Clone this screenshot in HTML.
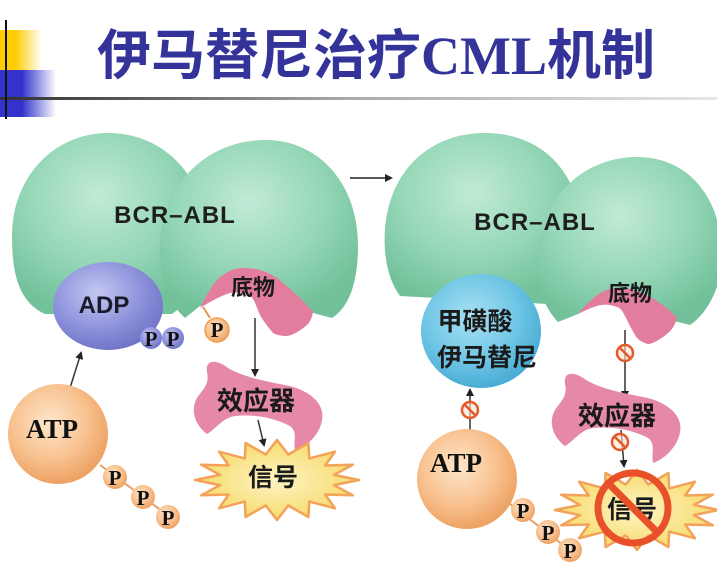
<!DOCTYPE html>
<html><head><meta charset="utf-8"><style>
html,body{margin:0;padding:0;background:#fff;}
#wrap{position:relative;width:717px;height:570px;overflow:hidden;background:#fff;}
.dec{position:absolute;}
#title{position:absolute;left:97px;top:24px;font-size:54px;line-height:54px;font-weight:bold;color:#333399;font-family:"Noto Sans CJK SC","WenQuanYi Zen Hei",sans-serif;white-space:nowrap;}
#title .l{font-family:"Liberation Serif",serif;}
svg{position:absolute;left:0;top:0;}
</style></head><body><div id="wrap">
<div class="dec" style="left:0;top:30px;width:42px;height:40px;background:linear-gradient(90deg,#ffcc00 0,#ffcc00 15px,rgba(255,204,0,0) 42px);"></div>
<div class="dec" style="left:0;top:70px;width:56px;height:47px;background:linear-gradient(90deg,#3333cc 0,#3333cc 22px,rgba(51,51,204,0) 56px);"></div>
<div class="dec" style="left:0;top:97px;width:717px;height:3px;background:linear-gradient(90deg,#333 0,#555 120px,#aaa 350px,#e6e6e6 717px);"></div>
<div class="dec" style="left:5px;top:20px;width:2px;height:99px;background:#111;"></div>
<div id="title">伊马替尼治疗<span class="l">CML</span>机制</div>
<svg width="717" height="570" viewBox="0 0 717 570" xmlns="http://www.w3.org/2000/svg">
<defs>
<radialGradient id="gr" cx="45%" cy="35%" r="65%"><stop offset="0" stop-color="#c2ead6"/><stop offset="0.55" stop-color="#97d8b8"/><stop offset="1" stop-color="#72c19b"/></radialGradient>
<radialGradient id="adp" cx="40%" cy="35%" r="65%"><stop offset="0" stop-color="#c4c7f2"/><stop offset="0.6" stop-color="#9094dc"/><stop offset="1" stop-color="#7176c8"/></radialGradient>
<radialGradient id="atp" cx="42%" cy="38%" r="62%"><stop offset="0" stop-color="#fde6cc"/><stop offset="0.6" stop-color="#f8c290"/><stop offset="1" stop-color="#eea264"/></radialGradient>
<radialGradient id="ima" cx="42%" cy="38%" r="62%"><stop offset="0" stop-color="#a8e1f3"/><stop offset="0.6" stop-color="#72c7e6"/><stop offset="1" stop-color="#4aadd5"/></radialGradient>
<radialGradient id="st" cx="50%" cy="50%" r="55%"><stop offset="0" stop-color="#fdf4c4"/><stop offset="1" stop-color="#f6d964"/></radialGradient>
<marker id="ah" markerWidth="8" markerHeight="8" refX="6" refY="4" orient="auto" markerUnits="userSpaceOnUse"><path d="M0,0 L8,4 L0,8 Z" fill="#222"/></marker>
</defs>
<g font-family="Liberation Sans, sans-serif">
<!-- LEFT PANEL -->
<path d="M45,314 C18,302 12,272 12,236 C12,176 55,133 108,133 C165,133 205,178 205,232 C205,272 192,300 172,314 Z" fill="url(#gr)"/>
<path d="M185,318 C165,300 158,270 160,240 C165,180 210,140 265,140 C320,140 358,185 358,245 C358,285 348,308 332,318 L313,313 L275,288 C262,283 240,282 228,288 L200,306 Z" fill="url(#gr)"/>
<path d="M200,308 C208,292 215,280 223,275 C230,270 236,268 243,268 C258,268 268,272 277,278 C292,290 303,300 313,312 C312,318 310,322 307,325 C300,331 293,335 287,336 C282,336 277,335 273,333 C268,327 264,322 260,315 C256,306 254,298 250,296 C243,292 236,292 230,293 C220,296 210,302 200,308 Z" fill="#e27d9e"/>
<ellipse cx="108" cy="306" rx="55" ry="44" fill="url(#adp)"/>
<circle cx="151" cy="338" r="11" fill="url(#adp)"/>
<circle cx="173" cy="338" r="11" fill="url(#adp)"/>
<line x1="210" y1="318" x2="203" y2="307" stroke="#e8954a" stroke-width="2"/>
<circle cx="217" cy="330" r="12" fill="url(#atp)" stroke="#f0a050" stroke-width="1.5"/>
<text x="175" y="223" font-size="24" font-weight="bold" fill="#1e1e1e" text-anchor="middle" letter-spacing="1">BCR–ABL</text>
<text x="104" y="313" font-size="24" font-weight="bold" fill="#1a1a2a" text-anchor="middle">ADP</text>
<g font-family="Liberation Serif, serif" font-weight="bold" font-size="21" fill="#111" text-anchor="middle">
<text x="151" y="346">P</text><text x="173" y="346">P</text><text x="217" y="337">P</text>
</g>
<text x="253" y="295" font-size="22" font-weight="bold" fill="#1a1a1a" text-anchor="middle" font-family="Noto Sans CJK SC, sans-serif">底物</text>
<line x1="255" y1="318" x2="255" y2="375" stroke="#333" stroke-width="1.5" marker-end="url(#ah)"/>
<path id="eff" d="M207,372 C205,358 218,360 228,368 C245,378 270,382 290,386 C312,392 325,405 322,420 C320,435 305,448 295,451 C293,440 298,432 290,426 C275,418 255,414 235,416 C222,418 215,430 207,434 C195,425 190,410 197,398 C202,390 210,385 207,372 Z" fill="#e588aa"/>
<text x="256" y="410" font-size="26" font-weight="bold" fill="#1a1a1a" text-anchor="middle" font-family="Noto Sans CJK SC, sans-serif">效应器</text>
<line x1="258" y1="420" x2="264" y2="445" stroke="#333" stroke-width="1.5" marker-end="url(#ah)"/>
<polygon transform="translate(277,480)" points="82,0 56.9,5.1 75.8,15.3 48.2,14.5 58,28.3 32.2,21.6 31.4,37 11.3,25.5 0,40 -11.3,25.5 -31.4,37 -32.2,21.6 -58,28.3 -48.2,14.5 -75.8,15.3 -56.9,5.1 -82,0 -56.9,-5.1 -75.8,-15.3 -48.2,-14.5 -58,-28.3 -32.2,-21.6 -31.4,-37 -11.3,-25.5 0,-40 11.3,-25.5 31.4,-37 32.2,-21.6 58,-28.3 48.2,-14.5 75.8,-15.3 56.9,-5.1" fill="url(#st)" stroke="#f3a25a" stroke-width="2.5" stroke-linejoin="round"/>
<text x="273" y="486" font-size="25" font-weight="bold" fill="#1a1a1a" text-anchor="middle" font-family="Noto Sans CJK SC, sans-serif">信号</text>
<line x1="70" y1="388" x2="81" y2="353" stroke="#333" stroke-width="1.5" marker-end="url(#ah)"/>
<line x1="100" y1="465" x2="170" y2="517" stroke="#e8a060" stroke-width="2"/>
<circle cx="58" cy="434" r="50" fill="url(#atp)"/>
<circle cx="115" cy="477" r="12" fill="url(#atp)"/>
<circle cx="143" cy="497" r="12" fill="url(#atp)"/>
<circle cx="168" cy="517" r="12" fill="url(#atp)"/>
<g font-family="Liberation Serif, serif" font-weight="bold" fill="#111" text-anchor="middle">
<text x="52" y="438" font-size="27">ATP</text>
<text x="115" y="485" font-size="21">P</text><text x="143" y="505" font-size="21">P</text><text x="168" y="525" font-size="21">P</text>
</g>
<!-- middle arrow -->
<line x1="350" y1="178" x2="391" y2="178" stroke="#222" stroke-width="1.5" marker-end="url(#ah)"/>
<!-- RIGHT PANEL -->
<path d="M400,296 C388,280 383,255 385,228 C390,170 430,133 485,133 C540,133 578,170 580,225 C580,262 566,290 548,304 Z" fill="url(#gr)"/>
<path d="M558,322 C542,305 535,280 537,255 C542,195 585,157 637,157 C690,157 722,200 722,255 C722,290 705,315 690,325 L670,320 L640,300 C630,296 615,296 600,300 L578,314 Z" fill="url(#gr)"/>
<path d="M578,314 C588,302 598,292 610,289 C628,285 640,292 652,298 C664,305 672,312 677,318 C675,325 672,330 668,333 C660,340 652,344 648,344 C644,343 640,341 637,338 C633,332 630,326 627,320 C623,312 621,308 617,307 C610,304 603,304 597,306 C590,308 584,311 578,314 Z" fill="#e27d9e"/>
<ellipse cx="481" cy="331" rx="60" ry="57" fill="url(#ima)"/>
<text x="535" y="230" font-size="24" font-weight="bold" fill="#1e1e1e" text-anchor="middle" letter-spacing="1">BCR–ABL</text>
<g font-family="Noto Sans CJK SC, sans-serif" font-weight="bold" fill="#1a1a1a" text-anchor="middle">
<text x="630" y="301" font-size="22">底物</text>
<text x="475" y="330" font-size="25">甲磺酸</text>
<text x="487" y="366" font-size="25">伊马替尼</text>
</g>
<line x1="625" y1="330" x2="625" y2="397" stroke="#333" stroke-width="1.5" marker-end="url(#ah)"/>
<use href="#eff" transform="translate(358,12)"/>
<text x="617" y="425" font-size="26" font-weight="bold" fill="#1a1a1a" text-anchor="middle" font-family="Noto Sans CJK SC, sans-serif">效应器</text>
<line x1="621" y1="430" x2="624" y2="466" stroke="#333" stroke-width="1.5" marker-end="url(#ah)"/>
<polygon transform="translate(637,510)" points="82,0 56.9,5.1 75.8,15.3 48.2,14.5 58,28.3 32.2,21.6 31.4,37 11.3,25.5 0,40 -11.3,25.5 -31.4,37 -32.2,21.6 -58,28.3 -48.2,14.5 -75.8,15.3 -56.9,5.1 -82,0 -56.9,-5.1 -75.8,-15.3 -48.2,-14.5 -58,-28.3 -32.2,-21.6 -31.4,-37 -11.3,-25.5 0,-40 11.3,-25.5 31.4,-37 32.2,-21.6 58,-28.3 48.2,-14.5 75.8,-15.3 56.9,-5.1" fill="url(#st)" stroke="#f3a25a" stroke-width="2.5" stroke-linejoin="round"/>
<text x="632" y="518" font-size="25" font-weight="bold" fill="#1a1a1a" text-anchor="middle" font-family="Noto Sans CJK SC, sans-serif">信号</text>
<circle cx="633" cy="508" r="35" fill="none" stroke="#e8502a" stroke-width="7"/>
<line x1="609" y1="484" x2="657" y2="532" stroke="#e8502a" stroke-width="7"/>
<line x1="470" y1="432" x2="470" y2="390" stroke="#333" stroke-width="1.5" marker-end="url(#ah)"/>
<line x1="505" y1="500" x2="572" y2="552" stroke="#e8a060" stroke-width="2"/>
<circle cx="467" cy="479" r="50" fill="url(#atp)"/>
<circle cx="523" cy="510" r="12" fill="url(#atp)"/>
<circle cx="548" cy="532" r="12" fill="url(#atp)"/>
<circle cx="570" cy="550" r="12" fill="url(#atp)"/>
<g font-family="Liberation Serif, serif" font-weight="bold" fill="#111" text-anchor="middle">
<text x="456" y="472" font-size="27">ATP</text>
<text x="523" y="518" font-size="21">P</text><text x="548" y="540" font-size="21">P</text><text x="570" y="558" font-size="21">P</text>
</g>
<!-- inhibition symbols -->
<g fill="#fbe3d0" fill-opacity="0.6" stroke="#e55a2a" stroke-width="2.5">
<circle cx="470" cy="410" r="8"/><line x1="465" y1="405" x2="475" y2="415"/>
<circle cx="625" cy="353" r="8"/><line x1="620" y1="348" x2="630" y2="358"/>
<circle cx="620" cy="442" r="8"/><line x1="615" y1="437" x2="625" y2="447"/>
</g>
</g>
</svg>
</div></body></html>
